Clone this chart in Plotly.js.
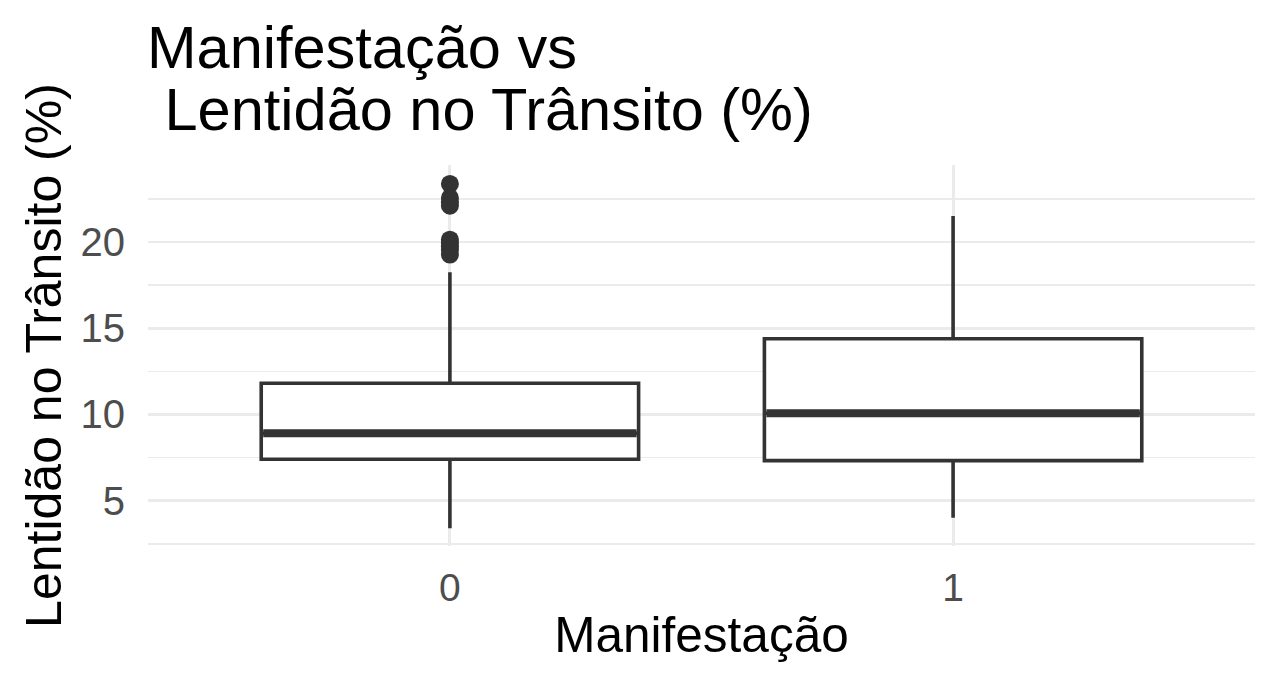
<!DOCTYPE html>
<html>
<head>
<meta charset="utf-8">
<script src="https://cdn.plot.ly/plotly-3.0.1.min.js"></script>
<style>html,body{margin:0;padding:0;background:#fff;}#chart{width:1280px;height:688px;}</style>
</head>
<body>
<div id="chart"></div>
<script>
// Categories (Manifestação) and their positions on the discrete axis
const categories = ['0', '1'];
const positions = [0, 1];

// Box statistics of Lentidão no Trânsito (%)
const lowerWhisker = [3.40, 4.01];
const q1 = [7.40, 7.32];
const median = [8.91, 10.07];
const q3 = [11.81, 14.39];
const upperWhisker = [18.24, 21.50];

// Outliers of category '0'
const outliers0 = [23.36, 22.55, 22.30, 22.10, 20.13, 19.95, 19.75, 19.55, 19.27];

// Tick values for the y axis
const yTicks = [5, 10, 15, 20];

const FONT = 'Liberation Sans, Arial, sans-serif';
const INK = '#333333';
const BOXW = 0.75;

const traces = [];
traces.push({
  type: 'box',
  x: positions,
  q1: q1,
  median: median,
  q3: q3,
  lowerfence: lowerWhisker,
  upperfence: upperWhisker,
  width: BOXW,
  whiskerwidth: 0,
  boxpoints: false,
  fillcolor: '#FFFFFF',
  line: {color: INK, width: 3.6},
  hoverinfo: 'skip',
  showlegend: false
});
// Thick median bars (ggplot fatten)
positions.forEach((p, i) => {
  traces.push({
    type: 'scatter', mode: 'lines',
    x: [p - BOXW / 2 + 0.004, p + BOXW / 2 - 0.004],
    y: [median[i], median[i]],
    line: {color: INK, width: 8},
    hoverinfo: 'skip', showlegend: false
  });
});
// Outlier points
traces.push({
  type: 'scatter', mode: 'markers',
  x: outliers0.map(() => positions[0]),
  y: outliers0,
  marker: {color: INK, size: 18, line: {width: 0}},
  hoverinfo: 'skip', showlegend: false
});

const layout = {
  width: 1280, height: 688,
  paper_bgcolor: '#FFFFFF', plot_bgcolor: '#FFFFFF',
  margin: {l: 148, r: 25, t: 165, b: 142, pad: 0},
  font: {family: FONT, color: '#000000'},
  title: {
    text: 'Manifestação vs',
    font: {family: FONT, size: 59.5, color: '#000000'},
    xref: 'container', yref: 'container',
    x: 147 / 1280, xanchor: 'left',
    y: 1 - 47.5 / 688, yanchor: 'middle'
  },
  annotations: [{
    text: '\u00A0Lentidão no Trânsito (%)',
    xref: 'paper', yref: 'paper',
    x: -0.001, xanchor: 'left',
    y: (546 - 109.5) / 381, yanchor: 'middle',
    showarrow: false, borderpad: 0,
    font: {family: FONT, size: 59.5, color: '#000000'}
  }],
  xaxis: {
    range: [-0.6, 1.6],
    tickvals: positions, ticktext: categories,
    showgrid: true, gridcolor: '#EBEBEB', gridwidth: 3,
    zeroline: false, showline: false, ticks: '',
    ticklabelstandoff: 15,
    tickfont: {family: FONT, size: 39, color: '#4D4D4D'},
    title: {text: 'Manifestação', font: {family: FONT, size: 49.5, color: '#000000'}, standoff: 9},
    automargin: false
  },
  yaxis: {
    range: [2.37, 24.46],
    tickvals: yTicks,
    showgrid: true, gridcolor: '#EBEBEB', gridwidth: 2.8,
    minor: {dtick: 2.5, tick0: 0, showgrid: true, gridcolor: '#EBEBEB', gridwidth: 1.5, ticks: ''},
    zeroline: false, showline: false, ticks: '',
    ticklabelstandoff: 22,
    tickfont: {family: FONT, size: 40, color: '#4D4D4D'},
    title: {text: 'Lentidão no Trânsito (%)', font: {family: FONT, size: 50, color: '#000000'}, standoff: 3},
    automargin: false
  }
};

Plotly.newPlot('chart', traces, layout, {displayModeBar: false, staticPlot: true});
</script>
</body>
</html>
